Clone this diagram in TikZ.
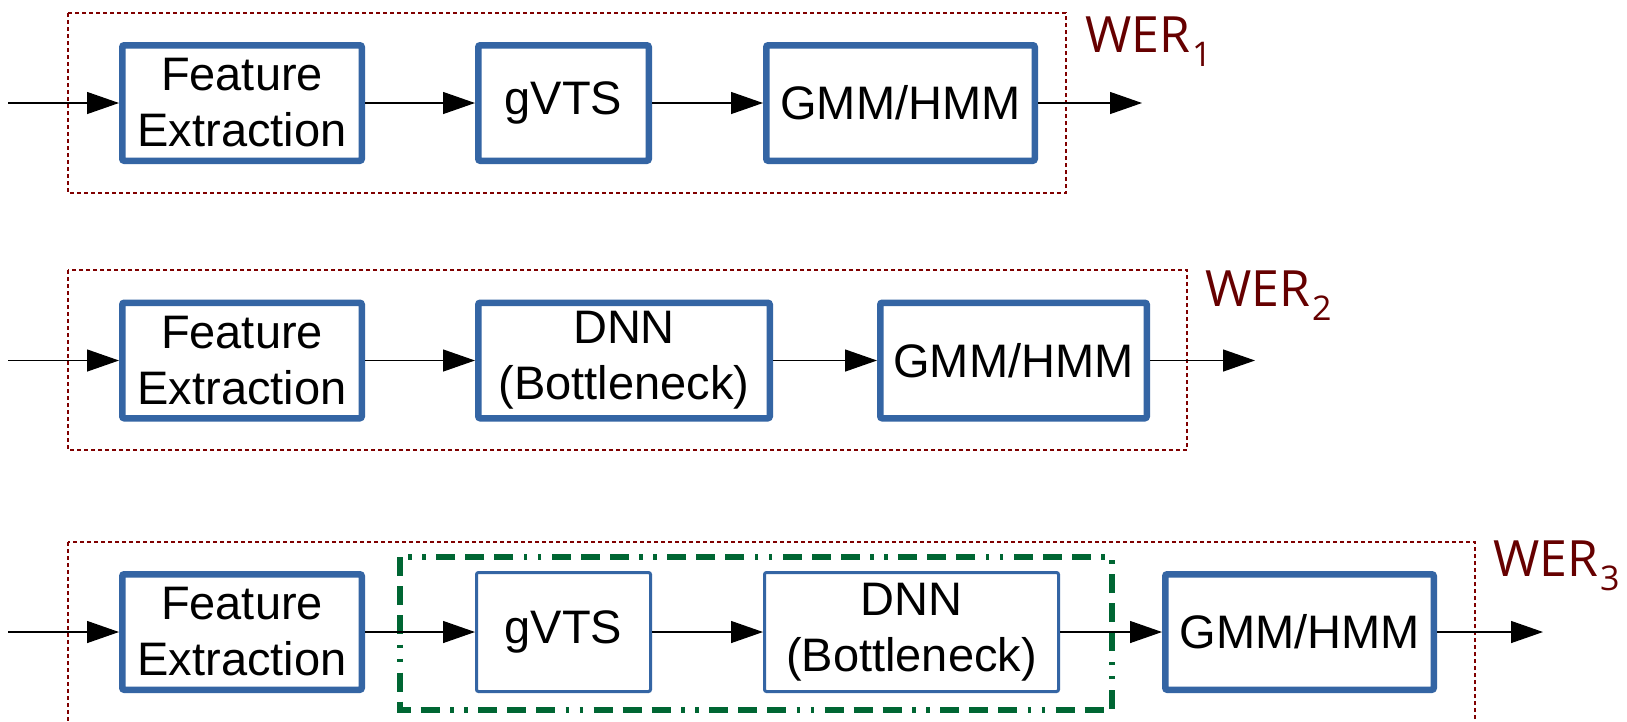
\documentclass[tikz,border=0pt]{standalone}
\usepackage{fontspec}
\setmainfont{Liberation Sans}
\newfontfamily\werfont{Open Sans}
\usetikzlibrary{arrows.meta}
\definecolor{boxblue}{RGB}{52,101,164}
\definecolor{werred}{RGB}{102,0,0}
\definecolor{framered}{RGB}{128,0,0}
\definecolor{groupgreen}{RGB}{0,102,51}
\begin{document}
\begin{tikzpicture}[x=1pt,y=-1pt,
  blk/.style={draw=boxblue, line width=6.5pt, rounded corners=2pt, fill=white,
    inner sep=0pt, align=center, minimum height=115.5pt,
    font=\fontsize{47}{56}\selectfont},
  thinblk/.style={blk, line width=3pt, minimum height=119pt},
  arr/.style={line width=1.3pt, -{Triangle[length=32pt,width=22pt]}},
  frame/.style={draw=framered, line width=1.2pt, dash pattern=on 4pt off 3pt},
  group/.style={draw=groupgreen, line width=6.5pt,
    dash pattern=on 19pt off 10pt on 19pt off 10pt on 19pt off 10.5pt
                 on 3.5pt off 10.5pt on 3.5pt off 10.5pt},
  wer/.style={text=werred, inner sep=0pt, anchor=base west,
    font=\werfont\fontsize{50}{50}\selectfont}
]
\useasboundingbox[fill=white] (0,0) rectangle (1627,721);
\newcommand{\werindex}[1]{\kern2pt\raisebox{-14pt}{\fontsize{34}{34}\selectfont #1}}

% ---------- row 1 ----------
\draw[frame] (68,13) rectangle (1066,193);
\node[blk, minimum width=239.5pt] (fe1) at (242,103) {Feature\\Extraction};
\node[blk, minimum width=170.5pt] (gv1) at (563.5,103) {gVTS};
\node[blk, minimum width=268.5pt] (gm1) at (900.5,103) {GMM/HMM};
\coordinate (in1) at (8,103);
\coordinate (out1) at (1142,103);
\draw[arr] (in1) -- (fe1.west);
\draw[arr] (fe1.east) -- (gv1.west);
\draw[arr] (gv1.east) -- (gm1.west);
\draw[arr] (gm1.east) -- (out1);
\node[wer] (w1) at (1085,52) {WER\werindex{1}};

% ---------- row 2 ----------
\draw[frame] (68,270) rectangle (1187,450);
\node[blk, minimum width=239.5pt] (fe2) at (242,360.5) {Feature\\Extraction};
\node[blk, minimum width=291.5pt] (dn2) at (624,360.5) {DNN\\(Bottleneck)};
\node[blk, minimum width=266.5pt] (gm2) at (1013.5,360.5) {GMM/HMM};
\coordinate (in2) at (8,360.5);
\coordinate (out2) at (1255,360.5);
\draw[arr] (in2) -- (fe2.west);
\draw[arr] (fe2.east) -- (dn2.west);
\draw[arr] (dn2.east) -- (gm2.west);
\draw[arr] (gm2.east) -- (out2);
\node[wer] (w2) at (1205,306) {WER\werindex{2}};

% ---------- row 3 ----------
\draw[frame] (68,542) rectangle (1475,760);
\draw[group] (400,557) rectangle (1112,710);
\node[blk, minimum width=239.5pt] (fe3) at (242,632) {Feature\\Extraction};
\node[thinblk, minimum width=174pt] (gv3) at (563.5,632) {gVTS};
\node[thinblk, minimum width=294pt] (dn3) at (911.5,632) {DNN\\(Bottleneck)};
\node[blk, minimum width=268.5pt] (gm3) at (1299.5,632) {GMM/HMM};
\coordinate (in3) at (8,632);
\coordinate (out3) at (1543,632);
\draw[arr] (in3) -- (fe3.west);
\draw[arr] (fe3.east) -- (gv3.west);
\draw[arr] (gv3.east) -- (dn3.west);
\draw[arr] (dn3.east) -- (gm3.west);
\draw[arr] (gm3.east) -- (out3);
\node[wer] (w3) at (1493,576) {WER\werindex{3}};
\end{tikzpicture}
\end{document}
